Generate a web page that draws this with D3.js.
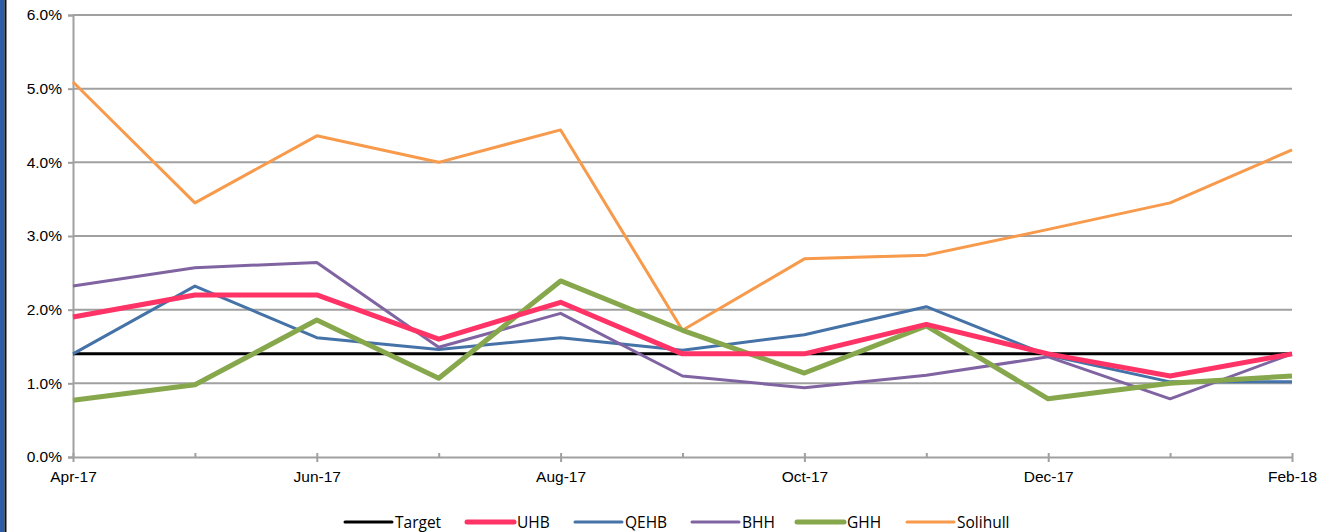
<!DOCTYPE html>
<html>
<head>
<meta charset="utf-8">
<script src="https://cdn.jsdelivr.net/npm/d3@7"></script>
<style>
  body { margin: 0; background: #fff; }
  svg { display: block; font-family: "Open Sans", Lato, sans-serif; }
</style>
</head>
<body>
<svg id="chart" width="1317" height="532"></svg>
<script>
var months = ["Apr-17", "May-17", "Jun-17", "Jul-17", "Aug-17", "Sep-17",
              "Oct-17", "Nov-17", "Dec-17", "Jan-18", "Feb-18"];
var target   = [1.4, 1.4, 1.4, 1.4, 1.4, 1.4, 1.4, 1.4, 1.4, 1.4, 1.4];
var uhb      = [1.9, 2.2, 2.2, 1.6, 2.1, 1.4, 1.4, 1.8, 1.4, 1.1, 1.4];
var qehb     = [1.4, 2.32, 1.62, 1.46, 1.62, 1.45, 1.66, 2.04, 1.38, 1.02, 1.02];
var bhh      = [2.32, 2.57, 2.64, 1.49, 1.95, 1.1, 0.94, 1.11, 1.36, 0.79, 1.4];
var ghh      = [0.77, 0.98, 1.86, 1.07, 2.39, 1.72, 1.14, 1.78, 0.79, 1.0, 1.1];
var solihull = [5.09, 3.45, 4.36, 4.0, 4.44, 1.72, 2.69, 2.74, 3.09, 3.45, 4.17];
var yTicks = [0, 1, 2, 3, 4, 5, 6];

var series = [
    { name: "Target",   values: target,   color: "#000000", width: 3 },
    { name: "UHB",      values: uhb,      color: "#FF3366", width: 5 },
    { name: "QEHB",     values: qehb,     color: "#4572A7", width: 3 },
    { name: "BHH",      values: bhh,      color: "#8064A2", width: 3 },
    { name: "GHH",      values: ghh,      color: "#86A74C", width: 5 },
    { name: "Solihull", values: solihull, color: "#F79A4B", width: 3 }
];

var fontSize = "15.5px";
var svg = d3.select("#chart");

// dark left border
svg.append("rect").attr("x", 0).attr("y", 0).attr("width", 4.5).attr("height", 532).attr("fill", "#2E5DA8");
svg.append("rect").attr("x", 4.5).attr("y", 0).attr("width", 2).attr("height", 532).attr("fill", "#111");

var plotLeft = 73, plotRight = 1292, plotTop = 15, plotBottom = 457;

var x = d3.scalePoint().domain(months).range([plotLeft, plotRight]);
var y = d3.scaleLinear().domain([0, 6]).range([plotBottom, plotTop]);

// gridlines
svg.append("g")
    .selectAll("line")
    .data(yTicks.slice(1))
    .enter()
    .append("line")
    .attr("x1", plotLeft).attr("x2", plotRight)
    .attr("y1", function (d) { return y(d); })
    .attr("y2", function (d) { return y(d); })
    .attr("stroke", "#A0A0A0")
    .attr("stroke-width", 2);

// y axis
var yAxis = svg.append("g")
    .attr("transform", "translate(" + plotLeft + ",0)")
    .call(d3.axisLeft(y).tickValues(yTicks).tickSize(5).tickPadding(6)
        .tickFormat(function (d) { return d.toFixed(1) + "%"; }));
yAxis.select(".domain").attr("stroke", "#A0A0A0").attr("stroke-width", 2);
yAxis.selectAll(".tick line").attr("stroke", "#A0A0A0").attr("stroke-width", 2);
yAxis.selectAll("text").style("font-size", fontSize).attr("fill", "#000");

// x axis: labels on every second month, minor ticks in between
var xAxis = svg.append("g")
    .attr("transform", "translate(0," + plotBottom + ")")
    .call(d3.axisBottom(x).tickSizeInner(0).tickSizeOuter(0).tickPadding(14)
        .tickFormat(function (d, i) { return i % 2 === 0 ? d : ""; }));
xAxis.select(".domain").attr("stroke", "#A0A0A0").attr("stroke-width", 2);
xAxis.selectAll("text").style("font-size", fontSize).attr("fill", "#000");
xAxis.selectAll(".tick line")
    .attr("y1", -4)
    .attr("y2", function (d, i) { return i % 2 === 0 ? 5 : 0; })
    .attr("stroke", "#A0A0A0")
    .attr("stroke-width", 2);

// lines
var line = d3.line()
    .x(function (d, i) { return x(months[i]); })
    .y(function (d) { return y(d); });

var order = [0, 2, 3, 5, 4, 1];
svg.append("g")
    .selectAll("path")
    .data(order.map(function (i) { return series[i]; }))
    .enter()
    .append("path")
    .attr("d", function (d) { return line(d.values); })
    .attr("fill", "none")
    .attr("stroke", function (d) { return d.color; })
    .attr("stroke-width", function (d) { return d.width; })
    .attr("stroke-linejoin", "round");

// legend
var legendX = [345, 467, 575, 692, 797, 907];
var lg = svg.append("g")
    .selectAll("g")
    .data(series)
    .enter()
    .append("g")
    .attr("transform", function (d, i) { return "translate(" + legendX[i] + ",522)"; });
lg.append("line")
    .attr("x1", 0).attr("x2", 47)
    .attr("stroke", function (d) { return d.color; })
    .attr("stroke-width", function (d) { return d.width; })
    .attr("stroke-linecap", "round");
lg.append("text")
    .attr("x", 50).attr("y", 5.5)
    .style("font-size", fontSize)
    .text(function (d) { return d.name; });
</script>
</body>
</html>
